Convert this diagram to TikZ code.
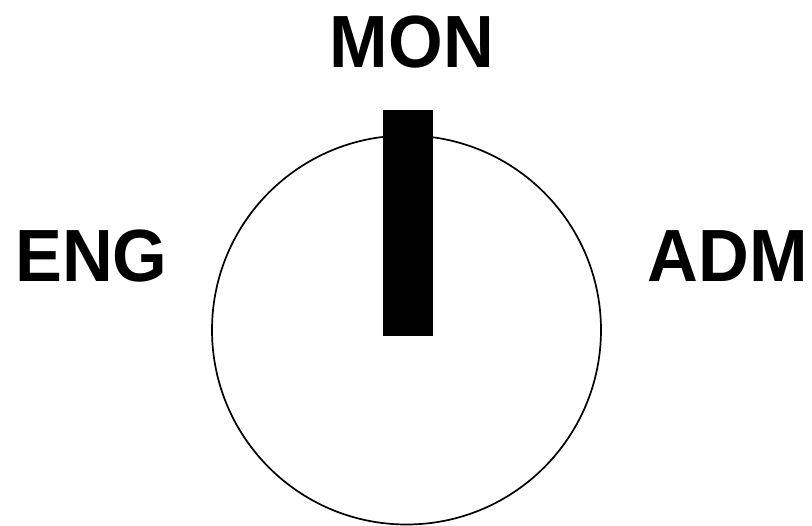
\documentclass[tikz,border=0pt]{standalone}
\usepackage{fontspec}
\setmainfont{Liberation Sans}
\begin{document}
\begin{tikzpicture}[x=1pt,y=-1pt,
  lbl/.style={inner sep=0pt,anchor=base,font=\bfseries\fontsize{74}{74}\selectfont}]
\useasboundingbox (0,0) rectangle (812,526);
\node[draw,circle,line width=1.7pt,minimum size=389pt,inner sep=0pt] (dial) at (406.5,330) {};
\fill[black] (383,110) rectangle (433,336);
\node[lbl,xscale=0.95] (mon) at (412,68) {MON};
\node[lbl,xscale=0.95] (eng) at (91.5,282) {ENG};
\node[lbl,xscale=0.95] (adm) at (728,282) {ADM};
\end{tikzpicture}
\end{document}
